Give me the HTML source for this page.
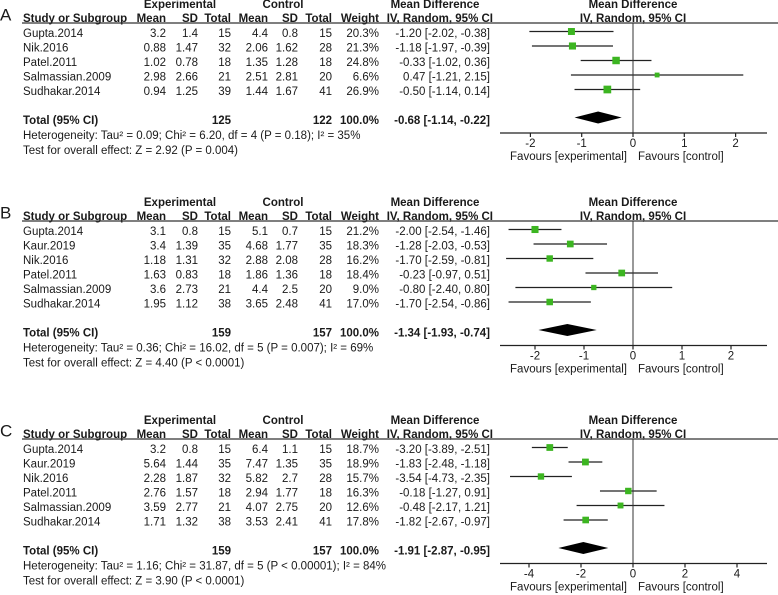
<!DOCTYPE html>
<html><head><meta charset="utf-8"><style>
html,body{margin:0;padding:0;background:#fff}
svg{display:block;font-family:"Liberation Sans",Arial,sans-serif}
text{font-size:11.5px;fill:#1a1a1a}
.b{font-weight:bold}
</style></head><body>
<svg id="c" width="778" height="595" viewBox="0 0 778 595"></svg>
<script>
// Panel A data
const studiesA=["Gupta.2014","Nik.2016","Patel.2011","Salmassian.2009","Sudhakar.2014"];
const expMeanA=["3.2","0.88","1.02","2.98","0.94"],expSDA=["1.4","1.47","0.78","2.66","1.25"],expNA=["15","32","18","21","39"];
const ctlMeanA=["4.4","2.06","1.35","2.51","1.44"],ctlSDA=["0.8","1.62","1.28","2.81","1.67"],ctlNA=["15","28","18","20","41"];
const weightA=[20.3,21.3,24.8,6.6,26.9];
const mdA=[-1.20,-1.18,-0.33,0.47,-0.50],loA=[-2.02,-1.97,-1.02,-1.21,-1.14],hiA=[-0.38,-0.39,0.36,2.15,0.14];
const totalA=["125","122","-0.68","-1.14","-0.22"];const totMdA=[-0.68,-1.14,-0.22];
const hetA="Heterogeneity: Tau² = 0.09; Chi² = 6.20, df = 4 (P = 0.18); I² = 35%";
const testA="Test for overall effect: Z = 2.92 (P = 0.004)";
const ticksA=[-2,-1,0,1,2];
// Panel B data
const studiesB=["Gupta.2014","Kaur.2019","Nik.2016","Patel.2011","Salmassian.2009","Sudhakar.2014"];
const expMeanB=["3.1","3.4","1.18","1.63","3.6","1.95"],expSDB=["0.8","1.39","1.31","0.83","2.73","1.12"],expNB=["15","35","32","18","21","38"];
const ctlMeanB=["5.1","4.68","2.88","1.86","4.4","3.65"],ctlSDB=["0.7","1.77","2.08","1.36","2.5","2.48"],ctlNB=["15","35","28","18","20","41"];
const weightB=[21.2,18.3,16.2,18.4,9.0,17.0];
const mdB=[-2.00,-1.28,-1.70,-0.23,-0.80,-1.70],loB=[-2.54,-2.03,-2.59,-0.97,-2.40,-2.54],hiB=[-1.46,-0.53,-0.81,0.51,0.80,-0.86];
const totalB=["159","157"];const totMdB=[-1.34,-1.93,-0.74];
const hetB="Heterogeneity: Tau² = 0.36; Chi² = 16.02, df = 5 (P = 0.007); I² = 69%";
const testB="Test for overall effect: Z = 4.40 (P < 0.0001)";
const ticksB=[-2,-1,0,1,2];
// Panel C data
const studiesC=["Gupta.2014","Kaur.2019","Nik.2016","Patel.2011","Salmassian.2009","Sudhakar.2014"];
const expMeanC=["3.2","5.64","2.28","2.76","3.59","1.71"],expSDC=["0.8","1.44","1.87","1.57","2.77","1.32"],expNC=["15","35","32","18","21","38"];
const ctlMeanC=["6.4","7.47","5.82","2.94","4.07","3.53"],ctlSDC=["1.1","1.35","2.7","1.77","2.75","2.41"],ctlNC=["15","35","28","18","20","41"];
const weightC=[18.7,18.9,15.7,16.3,12.6,17.8];
const mdC=[-3.20,-1.83,-3.54,-0.18,-0.48,-1.82],loC=[-3.89,-2.48,-4.73,-1.27,-2.17,-2.67],hiC=[-2.51,-1.18,-2.35,0.91,1.21,-0.97];
const totalC=["159","157"];const totMdC=[-1.91,-2.87,-0.95];
const hetC="Heterogeneity: Tau² = 1.16; Chi² = 31.87, df = 5 (P < 0.00001); I² = 84%";
const testC="Test for overall effect: Z = 3.90 (P < 0.0001)";
const ticksC=[-4,-2,0,2,4];

const svg=document.getElementById('c');const NS="http://www.w3.org/2000/svg";
function el(tag,attrs,parent){const e=document.createElementNS(NS,tag);for(const k in attrs)e.setAttribute(k,attrs[k]);(parent||svg).appendChild(e);return e;}
function txt(s,x,y,anchor,cls,parent){const t=el('text',{x:x,y:y,'text-anchor':anchor||'start','dominant-baseline':'central'},parent);if(cls)t.setAttribute('class',cls);t.textContent=s;return t;}
function f2(v){return v.toFixed(2);}
function panel(p){
 const g=el('g',{});
 
 
 const T=p.top;
 const L=txt(p.label,0,T+10,'start','',g);L.setAttribute('style','font-size:17px');
 
 txt('Experimental',180,T,'middle','b',g);txt('Control',283,T,'middle','b',g);txt('Mean Difference',435,T,'middle','b',g);txt('Mean Difference',633,T,'middle','b',g);
 const hy=T+14;
 txt('Study or Subgroup',23,hy,'start','b',g);
 [['Mean',166],['SD',198],['Total',231],['Mean',268],['SD',298],['Total',332],['Weight',379],['IV, Random, 95% CI',493]].forEach(h=>txt(h[0],h[1],hy,'end','b',g));
 txt('IV, Random, 95% CI',633,hy,'middle','b',g);
 const hl=el('line',{x1:22,x2:778,y1:T+18,y2:T+18,stroke:'#333','stroke-width':1.3},g);
 
 const x=v=>633+v*p.scale;
 const n=p.studies.length;
 const rowY=i=>T+29+i*14.5;
 for(let i=0;i<n;i++){
  const y=rowY(i);
  const r=el('g',{},g);
  
  txt(p.studies[i],23,y,'start','',r);
  txt(p.em[i],166,y,'end','',r);txt(p.es[i],198,y,'end','',r);txt(p.en[i],231,y,'end','',r);
  txt(p.cm[i],268,y,'end','',r);txt(p.cs[i],298,y,'end','',r);txt(p.cn[i],332,y,'end','',r);
  txt(p.w[i].toFixed(1)+'%',379,y,'end','',r);
  txt(f2(p.md[i])+' ['+f2(p.lo[i])+', '+f2(p.hi[i])+']',490,y,'end','',r);
  const py=y-2.5;
  const ci=el('line',{x1:x(p.lo[i]),x2:x(p.hi[i]),y1:py,y2:py,stroke:'#222','stroke-width':1.2},g);
  
  const s=2+Math.sqrt(p.w[i])*1.1;
  const sq=el('rect',{x:x(p.md[i])-s/2,y:py-s/2,width:s,height:s,fill:'#3cb521'},g);
  
 }
 const ty=rowY(n)+14.5;
 txt('Total (95% CI)',23,ty,'start','b',g);txt(p.tot[0],231,ty,'end','b',g);txt(p.tot[1],332,ty,'end','b',g);txt('100.0%',379,ty,'end','b',g);
 txt(f2(p.tmd[0])+' ['+f2(p.tmd[1])+', '+f2(p.tmd[2])+']',490,ty,'end','b',g);
 txt(p.het,23,ty+15,'start','',g);txt(p.test,23,ty+30,'start','',g);
 const dy=ty-3.5;
 const d=el('polygon',{points:`${x(p.tmd[1])},${dy} ${x(p.tmd[0])},${dy-6} ${x(p.tmd[2])},${dy} ${x(p.tmd[0])},${dy+6}`,fill:'#000'},g);
 
 const ay=ty+12;
 const zl=el('line',{x1:633,x2:633,y1:T+18,y2:ay,stroke:'#333','stroke-width':1},g);
 
 const ax=el('line',{x1:500,x2:767,y1:ay,y2:ay,stroke:'#222','stroke-width':1.2},g);
 
 p.ticks.forEach(t=>{el('line',{x1:x(t),x2:x(t),y1:ay,y2:ay+4,stroke:'#222','stroke-width':1.2},g);
  const tl=txt(String(t),x(t),ay+11,'middle','',g);});
 const f1=txt('Favours [experimental]',627,ay+24,'end','',g);
 const f2t=txt('Favours [control]',638,ay+24,'start','',g);
}
panel({label:'A',top:5,scale:51.3,studies:studiesA,em:expMeanA,es:expSDA,en:expNA,cm:ctlMeanA,cs:ctlSDA,cn:ctlNA,w:weightA,md:mdA,lo:loA,hi:hiA,tot:totalA,tmd:totMdA,het:hetA,test:testA,ticks:ticksA});
panel({label:'B',top:203,scale:49,studies:studiesB,em:expMeanB,es:expSDB,en:expNB,cm:ctlMeanB,cs:ctlSDB,cn:ctlNB,w:weightB,md:mdB,lo:loB,hi:hiB,tot:totalB,tmd:totMdB,het:hetB,test:testB,ticks:ticksB});
panel({label:'C',top:421,scale:26,studies:studiesC,em:expMeanC,es:expSDC,en:expNC,cm:ctlMeanC,cs:ctlSDC,cn:ctlNC,w:weightC,md:mdC,lo:loC,hi:hiC,tot:totalC,tmd:totMdC,het:hetC,test:testC,ticks:ticksC});
</script>
</body></html>
